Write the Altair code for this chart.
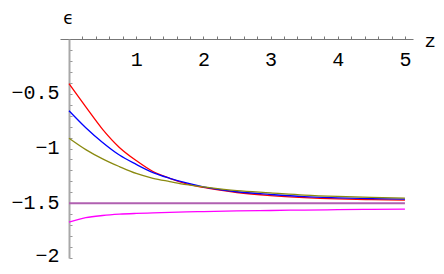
import altair as alt
import pandas as pd

# ---- data ----
z = [0, 0.25, 0.5, 0.75, 1, 1.25, 1.5, 1.75, 2, 2.5, 3, 3.5, 4, 4.5, 5]
red = [-0.408, -0.62, -0.825, -0.99, -1.11, -1.21, -1.272, -1.322, -1.356, -1.402, -1.43, -1.448, -1.46, -1.467, -1.472]
blue = [-0.655, -0.81, -0.945, -1.06, -1.145, -1.22, -1.272, -1.315, -1.35, -1.395, -1.42, -1.44, -1.45, -1.457, -1.463]
olive = [-0.906, -1.01, -1.095, -1.165, -1.228, -1.272, -1.302, -1.33, -1.35, -1.385, -1.405, -1.425, -1.438, -1.447, -1.454]
purple = [-1.5, -1.5, -1.5, -1.5, -1.5, -1.5, -1.5, -1.5, -1.5, -1.5, -1.5, -1.5, -1.5, -1.5, -1.5]
magenta = [-1.673, -1.632, -1.612, -1.6, -1.593, -1.588, -1.583, -1.579, -1.576, -1.57, -1.566, -1.562, -1.559, -1.556, -1.554]

series_names = ["red", "blue", "olive", "purple", "magenta"]
series_colors = ["#ff0000", "#0000ff", "#8a8a10", "#b060b0", "#ff00ff"]
series_widths = [1.3, 1.3, 1.3, 2.2, 1.3]

x_ticks = [0.2, 0.4, 0.6, 0.8, 1, 1.2, 1.4, 1.6, 1.8, 2, 2.2, 2.4, 2.6, 2.8, 3,
           3.2, 3.4, 3.6, 3.8, 4, 4.2, 4.4, 4.6, 4.8, 5]
y_ticks = [-2, -1.9, -1.8, -1.7, -1.6, -1.5, -1.4, -1.3, -1.2, -1.1, -1,
           -0.9, -0.8, -0.7, -0.6, -0.5, -0.4, -0.3, -0.2, -0.1]

rows = []
for name, vals, w in zip(series_names, [red, blue, olive, purple, magenta], series_widths):
    for zz, v in zip(z, vals):
        rows.append({"z": zz, "v": v, "series": name, "w": w})
df = pd.DataFrame(rows)

x_enc = alt.X(
    "z:Q",
    scale=alt.Scale(domain=[-0.134, 5.12], nice=False, zero=False),
    axis=alt.Axis(
        orient="top", values=x_ticks, format="~g",
        labelExpr="datum.value % 1 === 0 ? datum.label : ''",
        labelOverlap=False, labelFlush=False,
        tickSize=3, tickColor="#777777", domainColor="#777777", domainWidth=1,
        labelPadding=-29, labelBaseline="alphabetic", labelAlign="center",
        labelFont="Liberation Mono", labelFontSize=20, labelColor="black",
        grid=False,
        title="z", titleX=364, titleY=7, titleAlign="left", titleBaseline="alphabetic",
        titleFont="Liberation Mono", titleFontSize=19, titleFontWeight="normal",
        titleColor="black", titleAngle=0,
    ),
)

y_enc = alt.Y(
    "v:Q",
    scale=alt.Scale(domain=[-2, 0], nice=False, zero=False),
    axis=alt.Axis(
        orient="right", offset=-344, values=y_ticks, format="~g",
        labelExpr="abs(datum.value*2 - round(datum.value*2)) < 0.001 ? datum.label : ''",
        labelOverlap=False, labelFlush=False,
        tickSize=3, tickColor="#999999", domainColor="#a8a8a8", domainWidth=2,
        labelPadding=-13, labelAlign="right", labelBaseline="middle",
        labelOffset={"condition": {"test": "datum.value < -1.99", "value": -3}, "value": -1},
        labelFont="Liberation Mono", labelFontSize=20, labelColor="black",
        grid=False,
        title="ϵ", titleX=-1, titleY=-16, titleAlign="center", titleBaseline="alphabetic",
        titleFont="DejaVu Sans", titleFontSize=17, titleFontWeight="normal",
        titleColor="black", titleAngle=0,
    ),
)

chart = (
    alt.Chart(df)
    .mark_line(interpolate="monotone")
    .encode(
        x=x_enc,
        y=y_enc,
        color=alt.Color("series:N", scale=alt.Scale(domain=series_names, range=series_colors), legend=None),
        strokeWidth=alt.StrokeWidth("w:Q", scale=None),
        detail="series:N",
    )
    .properties(
        width=353,
        height=219,
        autosize=alt.AutoSizeParams(type="none"),
        padding={"left": 52, "top": 31, "right": 23, "bottom": 8},
        background="white",
    )
    .configure_view(stroke=None)
)

chart.save("out.html", embed_options={"renderer": "svg", "actions": False})
